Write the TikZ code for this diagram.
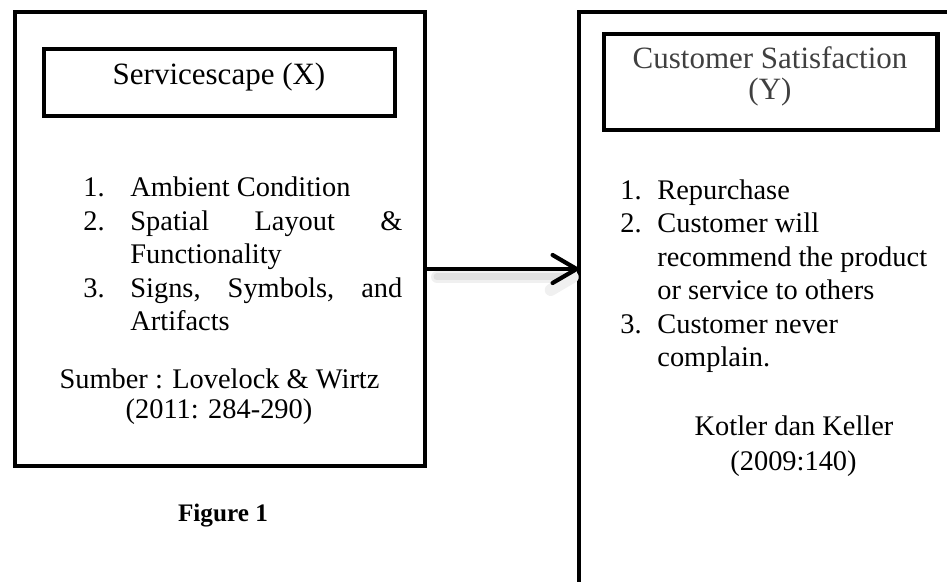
\documentclass[tikz,border=0pt]{standalone}
\usepackage{fontspec}
\setmainfont{Liberation Serif}
\usetikzlibrary{arrows.meta}
\begin{document}
\begin{tikzpicture}[x=0.5pt,y=-0.5pt,
  box/.style={draw=black,line width=2.1pt,inner sep=0pt,outer sep=0pt,rectangle},
  ttl/.style={inner sep=0pt,font=\fontsize{15.5}{18}\selectfont},
  txt/.style={inner sep=0pt,anchor=base west,font=\fontsize{14.2}{17}\selectfont},
  ctxt/.style={inner sep=0pt,anchor=base,font=\fontsize{14.2}{17}\selectfont},
  arr/.style={line width=2.1pt,-{Straight Barb[length=12pt,width=14pt,line cap=round,line join=round]}},
  shadowwide/.style={line width=6pt,draw=black!6,line cap=round},
  shadowmid/.style={line width=3.5pt,draw=black!12,line cap=round}
]
\useasboundingbox (0,0) rectangle (947,582);
\clip (0,0) rectangle (947,582);
% boxes
\node[box,minimum width=205.15pt,minimum height=226.7pt] (lo) at (219.85,239) {};
\node[box,minimum width=175.35pt,minimum height=33.65pt] (li) at (219.35,82.65) {};
\node[box,minimum width=188.15pt,minimum height=293.85pt] (ro) at (766.85,306.15) {};
\node[box,minimum width=166.75pt,minimum height=48pt] (ri) at (770.75,82) {};
% titles
\node[ttl,anchor=base] (t1) at (219,85) {Servicescape (X)};
\node[ttl,anchor=base,text=black!75] (t2a) at (770,69) {Customer Satisfaction};
\node[ttl,anchor=base,text=black!75] (t2b) at (770,100) {(Y)};
% left list
\node[txt] (ln1) at (83,197) {1.};
\node[txt] (lt1) at (130,197) {Ambient Condition};
\node[txt] (ln2) at (83,230.5) {2.};
\node[txt] (lt2) at (130,230.5) {\makebox[136pt][s]{Spatial Layout \&}};
\node[txt] (lt2b) at (130,264) {Functionality};
\node[txt] (ln3) at (83,297.5) {3.};
\node[txt] (lt3) at (130,297.5) {\makebox[136pt][s]{Signs, Symbols, and}};
\node[txt] (lt3b) at (130,331) {Artifacts};
\node[ctxt] (ls1) at (219.5,388) {Sumber : Lovelock \& Wirtz};
\node[ctxt] (ls2) at (219,418) {(2011: 284-290)};
\node[inner sep=0pt,anchor=base,font=\fontsize{12.6}{15}\selectfont\bfseries] (fig) at (223,521) {Figure 1};
% right list
\node[txt] (rn1) at (620,200) {1.};
\node[txt] (rt1) at (657,200) {Repurchase};
\node[txt] (rn2) at (620,233) {2.};
\node[txt] (rt2) at (657,233) {Customer will};
\node[txt] (rt2b) at (657,267) {recommend the product};
\node[txt] (rt2c) at (657,300) {or service to others};
\node[txt] (rn3) at (620,334) {3.};
\node[txt] (rt3) at (657,334) {Customer never};
\node[txt] (rt3b) at (657,367) {complain.};
\node[ctxt] (rs1) at (794,435) {Kotler dan Keller};
\node[ctxt] (rs2) at (793.5,470) {(2009:140)};
% arrow with soft shadow
\coordinate (ay) at (0,269);
\coordinate (ays) at (0,277);
\coordinate (hb) at (0,290);
\draw[shadowwide] ([xshift=6pt]lo.east |- ays) -- ([xshift=-8pt]ro.west |- ays);
\draw[shadowmid] ([xshift=6pt]lo.east |- ays) -- ([xshift=-8pt]ro.west |- ays);
\draw[shadowwide] ([xshift=-14pt]ro.west |- hb) -- ([xshift=-3pt]ro.west |- ays);
\draw[arr] (lo.east |- ay) -- (ro.west |- ay);
\end{tikzpicture}
\end{document}
